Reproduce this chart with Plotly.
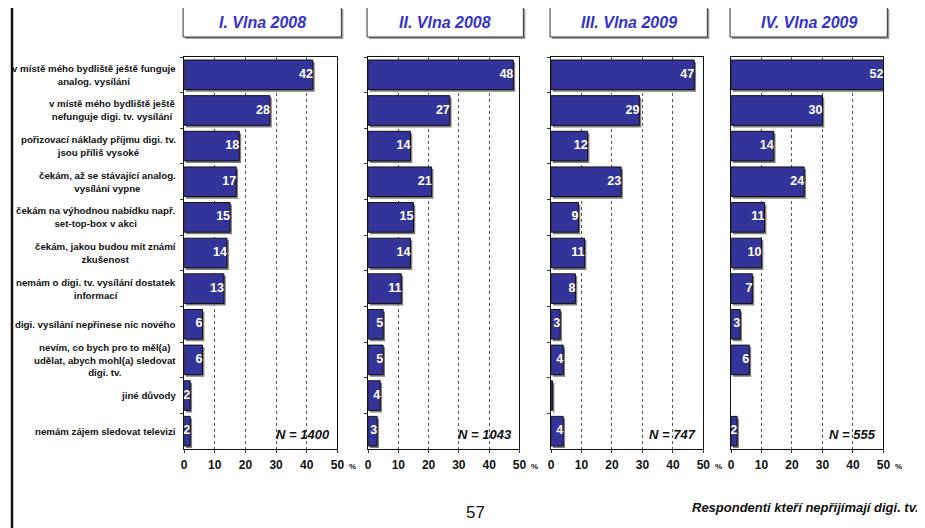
import plotly.graph_objects as go

# the page body has an 8px margin, so the figure is shrunk to fit the window
PAGE_W, PAGE_H, BODY_MARGIN = 925, 528, 8
W, H = PAGE_W - BODY_MARGIN, PAGE_H - BODY_MARGIN
FONT = "Liberation Sans, Arial, sans-serif"

# ---------------- data ----------------
categories = [
    "v místě mého bydliště ještě funguje<br>analog. vysílání",
    "v místě mého bydliště ještě<br>nefunguje digi. tv. vysílání",
    "pořizovací náklady příjmu digi. tv.<br>jsou příliš vysoké",
    "čekám, až se stávající analog.<br>vysílání vypne",
    "čekám na výhodnou nabídku např.<br>set-top-box v akci",
    "čekám, jakou budou mít známí<br>zkušenost",
    "nemám o digi. tv. vysílání dostatek<br>informací",
    "digi. vysílání nepřinese nic nového",
    "nevím, co bych pro to měl(a)<br>udělat, abych mohl(a) sledovat<br>digi. tv.",
    "jiné důvody",
    "nemám zájem sledovat televizi",
]
wave_titles = ["I. Vlna 2008", "II. Vlna 2008", "III. Vlna 2009", "IV. Vlna 2009"]
sample_sizes = ["N = 1400", "N = 1043", "N = 747", "N = 555"]
wave1 = [42, 28, 18, 17, 15, 14, 13, 6, 6, 2, 2]
wave2 = [48, 27, 14, 21, 15, 14, 11, 5, 5, 4, 3]
wave3 = [47, 29, 12, 23, 9, 11, 8, 3, 4, 0.5, 4]
wave4 = [52, 30, 14, 24, 11, 10, 7, 3, 6, 0, 2]
x_ticks = [0, 10, 20, 30, 40, 50]
page_number = "57"
footer = "Respondenti kteří nepřijímají digi. tv."

waves = [wave1, wave2, wave3, wave4]
X_MAX = x_ticks[-1]

# ---------------- layout helpers (screen pixel -> paper) ----------------
panel_px = [(183, 338), (369, 522), (554, 708), (736, 890)]
plot_top, plot_bottom = 57, 449


def px(x):
    return (x - BODY_MARGIN) / W


def py(y):
    return 1 - (y - BODY_MARGIN) / H


BAR_W = 0.83
fig = go.Figure()
layout = dict(
    width=W, height=H,
    margin=dict(l=0, r=0, t=0, b=0),
    paper_bgcolor="white", plot_bgcolor="white",
    barmode="overlay", showlegend=False,
    font=dict(family=FONT, color="#111"),
)
annotations = []
shapes = []

for k, vals in enumerate(waves):
    sfx = "" if k == 0 else str(k + 1)
    xa, ya = "x" + sfx, "y" + sfx
    x0, x1 = panel_px[k]
    visible = [v > 0 for v in vals]

    # shadow
    fig.add_trace(go.Bar(
        x=vals, y=categories, orientation="h", base=0.6,
        width=BAR_W, offset=-BAR_W / 2 + 0.06,
        marker=dict(color=["rgba(120,120,120,0.95)" if s else "rgba(0,0,0,0)"
                           for s in visible], line=dict(width=0)),
        xaxis=xa, yaxis=ya, hoverinfo="skip",
    ))
    # bars
    fig.add_trace(go.Bar(
        x=vals, y=categories, orientation="h",
        width=BAR_W, offset=-BAR_W / 2,
        marker=dict(color="#333399",
                    line=dict(color="#111111", width=[1 if s else 0 for s in visible])),
        xaxis=xa, yaxis=ya, hoverinfo="skip",
    ))
    # value labels
    fig.add_trace(go.Scatter(
        x=[min(v, X_MAX) for v in vals], y=categories, mode="text",
        text=[str(round(v)) if v >= 1 else "" for v in vals],
        textposition="middle left",
        textfont=dict(color="white", size=12.5, family=FONT, weight="bold"),
        xaxis=xa, yaxis=ya, hoverinfo="skip",
    ))

    layout["xaxis" + sfx] = dict(
        domain=[px(x0), px(x1)], anchor=ya, range=[0, X_MAX],
        tickvals=x_ticks, ticks="outside", ticklen=3, tickcolor="#333",
        showgrid=True, gridcolor="#555", griddash="dot", gridwidth=1,
        showline=True, mirror=True, linecolor="#111", linewidth=1,
        zeroline=False, ticklabelstandoff=2,
        tickfont=dict(family=FONT, size=12, color="#111", weight="bold"),
        fixedrange=True,
    )
    layout["yaxis" + sfx] = dict(
        domain=[py(plot_bottom), py(plot_top)], anchor=xa,
        type="category", categoryorder="array", categoryarray=categories,
        range=[len(categories) - 0.5, -0.5],
        showticklabels=False,
        ticks="outside" if k < 3 else "", tickson="boundaries", ticklen=3,
        tickcolor="#333",
        showgrid=False, zeroline=False,
        showline=True, linecolor="#111", linewidth=1, mirror=True,
        fixedrange=True,
    )

    # N label
    annotations.append(dict(
        text=sample_sizes[k], xref=xa + " domain", x=1, xanchor="right",
        xshift=-5, yref=ya, y=len(categories) - 1, yshift=-3,
        showarrow=False,
        font=dict(family=FONT, size=13, color="#111", weight="bold", style="italic"),
    ))
    # % sign
    annotations.append(dict(
        text="%", xref=xa + " domain", x=1, xanchor="left", xshift=10,
        yref="paper", y=py(466), yanchor="middle", showarrow=False,
        font=dict(family=FONT, size=8, color="#111", weight="bold"),
    ))
    # title box
    bx0, bx1 = x0 - 1, x1 + 4
    shapes.append(dict(type="rect", xref="paper", yref="paper",
                       x0=px(bx0 + 2), x1=px(bx1 + 2), y0=py(39), y1=py(9),
                       fillcolor="#999", line=dict(width=0), layer="below"))
    shapes.append(dict(type="rect", xref="paper", yref="paper",
                       x0=px(bx0), x1=px(bx1), y0=py(37), y1=py(7.5),
                       fillcolor="white", line=dict(color="#333", width=1),
                       layer="below"))
    annotations.append(dict(
        text=wave_titles[k], xref="paper", x=px((bx0 + bx1) / 2), xanchor="center",
        yref="paper", y=py(22), yanchor="middle", showarrow=False,
        font=dict(family=FONT, size=16, color="#3333CC", weight="bold", style="italic"),
    ))

# category labels (left of first panel)
for i, c in enumerate(categories):
    annotations.append(dict(
        text=c, xref="x domain", x=0, xanchor="right", xshift=-6,
        yref="y", y=i, yanchor="middle", align="center", showarrow=False,
        font=dict(family=FONT, size=9.7, color="#111", weight="bold"),
    ))

# page decorations
shapes.append(dict(type="line", xref="paper", yref="paper",
                   x0=px(9), x1=px(9), y0=0, y1=1,
                   line=dict(color="#111", width=2.5)))
annotations.append(dict(
    text=page_number, xref="paper", x=px(478), xanchor="center",
    yref="paper", y=py(512), yanchor="middle", showarrow=False,
    font=dict(family=FONT, size=17, color="#111"),
))
annotations.append(dict(
    text=footer, xref="paper", x=px(921), xanchor="right", xshift=7,
    yref="paper", y=py(507), yanchor="middle", showarrow=False,
    font=dict(family=FONT, size=13, color="#111", weight="bold", style="italic"),
))

layout["annotations"] = annotations
layout["shapes"] = shapes
fig.update_layout(**layout)
fig.write_html("out.html")
